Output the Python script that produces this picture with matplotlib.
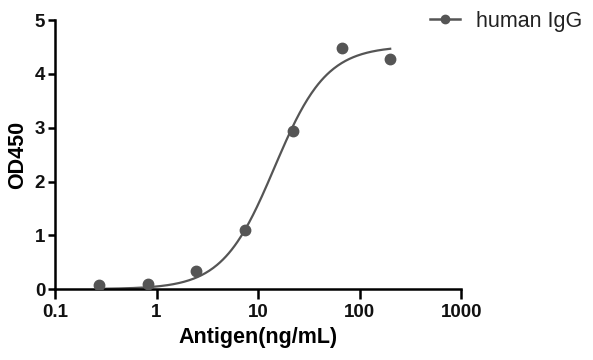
import numpy as np
import matplotlib
matplotlib.use("Agg")
import matplotlib.pyplot as plt
from matplotlib.ticker import FixedLocator, FixedFormatter, NullLocator

# Data (3-fold dilution series)
antigen_ng_ml = [0.274, 0.823, 2.47, 7.41, 22.2, 66.7, 200.0]
od450 = [0.07, 0.10, 0.34, 1.10, 2.94, 4.48, 4.27]
series_name = "human IgG"

x_ticks = [0.1, 1, 10, 100, 1000]
x_tick_labels = ["0.1", "1", "10", "100", "1000"]
y_ticks = [0, 1, 2, 3, 4, 5]


def four_pl(logx, p, bottom=0.0):
    top, logec50, hill = p
    return bottom + (top - bottom) / (1.0 + 10.0 ** ((logec50 - logx) * hill))


def fit_four_pl(x, y):
    # Levenberg-Marquardt on log10(x), bottom constrained to 0
    logx = np.log10(x)
    p = np.array([max(y), np.median(logx), 1.0])
    lam = 1e-2
    for _ in range(500):
        r = y - four_pl(logx, p)
        J = np.empty((logx.size, 3))
        for i in range(3):
            dp = np.zeros(3)
            dp[i] = 1e-6
            J[:, i] = (four_pl(logx, p + dp) - four_pl(logx, p - dp)) / 2e-6
        A = J.T @ J
        g = J.T @ r
        step = np.linalg.solve(A + lam * np.diag(np.diag(A)), g)
        p_new = p + step
        if np.sum((y - four_pl(logx, p_new)) ** 2) < np.sum(r ** 2):
            p = p_new
            lam *= 0.5
        else:
            lam *= 4.0
    return p


x = np.asarray(antigen_ng_ml)
y = np.asarray(od450)
params = fit_four_pl(x, y)
x_fit = np.logspace(np.log10(x.min()), np.log10(x.max()), 300)
y_fit = four_pl(np.log10(x_fit), params)

plt.rcParams["font.family"] = ["Liberation Sans", "DejaVu Sans"]

fig = plt.figure(figsize=(5.93, 3.6), dpi=100)
ax = fig.add_axes([0.0927, 0.197, 0.685, 0.747])

grey = "#555555"
ax.plot(x_fit, y_fit, color=grey, lw=1.6, zorder=2)
ax.plot(x, y, "o", color=grey, ms=7.5, zorder=3)
# legend handle: line through a marker
ax.plot([], [], "-o", color=grey, lw=1.8, ms=6, label=series_name)

ax.set_xscale("log")
ax.set_xlim(0.1, 1000)
ax.set_ylim(0, 5)
ax.xaxis.set_major_locator(FixedLocator(x_ticks))
ax.xaxis.set_major_formatter(FixedFormatter(x_tick_labels))
ax.xaxis.set_minor_locator(NullLocator())
ax.set_yticks(y_ticks)

for side in ("top", "right"):
    ax.spines[side].set_visible(False)
for side in ("left", "bottom"):
    ax.spines[side].set_linewidth(1.8)
    ax.spines[side].set_color("black")

ax.tick_params(axis="y", length=5, width=1.8, labelsize=13.5, pad=2)
ax.tick_params(axis="x", length=7, width=1.8, labelsize=13.5, pad=4)
for lbl in ax.get_xticklabels() + ax.get_yticklabels():
    lbl.set_fontweight("bold")
    lbl.set_color("#111111")

ax.set_xlabel("Antigen(ng/mL)", fontsize=15.5, fontweight="bold", labelpad=4)
ax.set_ylabel("OD450", fontsize=15.5, fontweight="bold", labelpad=5)

fig.legend(loc="upper left", bbox_to_anchor=(430 / 593, 1 - 11 / 360),
           frameon=False, fontsize=15.5, borderpad=0, borderaxespad=0,
           handlelength=1.4, handletextpad=0.75, labelcolor="#222222")

fig.savefig("out.png", dpi=100)
